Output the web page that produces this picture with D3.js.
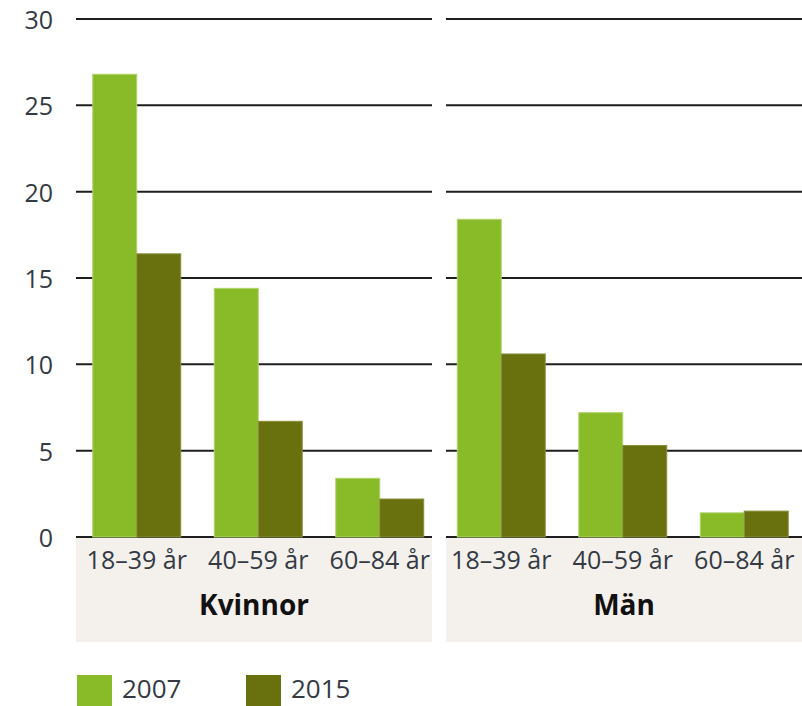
<!DOCTYPE html>
<html>
<head>
<meta charset="utf-8">
<script src="https://cdn.jsdelivr.net/npm/d3@7"></script>
<style>
  html, body { margin: 0; padding: 0; background: #ffffff; }
  svg { display: block; }
  text { font-family: "Open Sans", "Noto Sans", sans-serif; }
</style>
</head>
<body>
<svg id="chart" width="802" height="706"></svg>
<script>
// ---- data ----
const groups = ["Kvinnor", "Män"];
const ages = ["18–39 år", "40–59 år", "60–84 år"];
const years = ["2007", "2015"];
const values2007 = [26.8, 14.4, 3.4, 18.4, 7.2, 1.4];
const values2015 = [16.4, 6.7, 2.2, 10.6, 5.3, 1.5];
const yTicks = [0, 5, 10, 15, 20, 25, 30];

// ---- layout ----
const svg = d3.select("#chart");
const plotTop = 19, plotBottom = 537;
const panels = [ {x0: 76, x1: 432}, {x0: 446, x1: 802} ];
const colors = { "2007": "#88bb27", "2015": "#69710f" };
const strokes = { "2007": "#b2d46e", "2015": "#8a8f3e" };
const textColor = "#333a44";

const y = d3.scaleLinear().domain([0, 30]).range([plotBottom, plotTop]);

const keys = [];
groups.forEach(g => ages.forEach(a => keys.push(g + "|" + a)));
const rows = keys.map((k, i) => ({ key: k, group: k.split("|")[0], age: k.split("|")[1],
  "2007": values2007[i], "2015": values2015[i] }));

const x0 = d3.scaleBand().domain(keys).range([76, 805]).paddingInner(0.276).paddingOuter(0.138);
const x1 = d3.scaleBand().domain(years).range([0, x0.bandwidth()]).padding(0);

// beige label backgrounds
svg.selectAll("rect.bg").data(panels).join("rect")
  .attr("class", "bg")
  .attr("x", d => d.x0).attr("y", plotBottom + 1)
  .attr("width", d => d.x1 - d.x0).attr("height", 642 - plotBottom - 1)
  .attr("fill", "#f4f0eb");

// gridlines per panel
panels.forEach(p => {
  svg.append("g").selectAll("line").data(yTicks).join("line")
    .attr("x1", p.x0).attr("x2", p.x1)
    .attr("y1", d => y(d)).attr("y2", d => y(d))
    .attr("stroke", "#1e1e1e").attr("stroke-width", 2);
});

// y axis labels
const yAxis = d3.axisLeft(y).tickValues(yTicks).tickSize(0).tickPadding(0);
const gy = svg.append("g").attr("transform", "translate(53,0)").call(yAxis);
gy.select(".domain").remove();
gy.selectAll("text").attr("font-size", 25).attr("fill", textColor)
  .attr("font-family", "\"Open Sans\", sans-serif").attr("dy", "0.38em");

// bars
const gBars = svg.append("g");
rows.forEach(r => {
  years.forEach(yr => {
    gBars.append("rect")
      .attr("x", x0(r.key) + x1(yr))
      .attr("y", y(r[yr]))
      .attr("width", x1.bandwidth())
      .attr("height", y(0) - y(r[yr]))
      .attr("fill", colors[yr])
      .attr("stroke", strokes[yr]).attr("stroke-width", 1);
  });
});

// x category labels
svg.append("g").selectAll("text").data(rows).join("text")
  .attr("x", d => x0(d.key) + x0.bandwidth() / 2)
  .attr("y", 569)
  .attr("text-anchor", "middle")
  .attr("font-size", 25)
  .attr("fill", textColor)
  .text(d => d.age);

// group labels
svg.append("g").selectAll("text").data(groups).join("text")
  .attr("x", (d, i) => (panels[i].x0 + panels[i].x1) / 2)
  .attr("y", 615)
  .attr("text-anchor", "middle")
  .attr("font-size", 28)
  .attr("font-weight", "bold")
  .attr("fill", "#111111")
  .text(d => d);

// legend
const legendX = [77, 246];
const lg = svg.append("g").selectAll("g").data(years).join("g")
  .attr("transform", (d, i) => `translate(${legendX[i]},675)`);
lg.append("rect").attr("width", 35).attr("height", 31).attr("fill", d => colors[d]);
lg.append("text").attr("x", 45).attr("y", 23)
  .attr("font-size", 26).attr("fill", textColor).text(d => d);
</script>
</body>
</html>
